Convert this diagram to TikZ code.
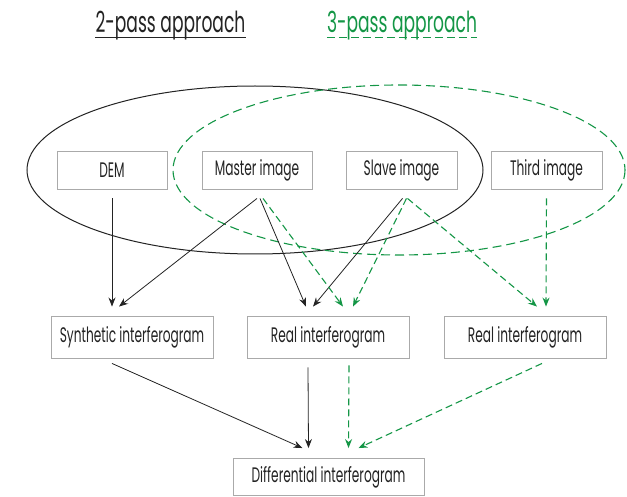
\documentclass[tikz,border=0pt]{standalone}
\usepackage{fontspec}
\setmainfont{Poppins}
\newfontfamily\boxfont{Poppins}[FakeStretch=0.58]
\newfontfamily\titlefont{Poppins}[FakeStretch=0.59]
\usetikzlibrary{arrows.meta}
\definecolor{gr}{RGB}{20,150,70}
\definecolor{ink}{RGB}{35,35,35}
\definecolor{boxline}{RGB}{170,170,170}
\tikzset{
  box/.style={draw=boxline, line width=0.9pt, inner sep=0pt, text=ink,
    font=\boxfont\fontsize{21}{24}\selectfont},
  small/.style={box, minimum width=110pt, minimum height=38pt},
  wide/.style={box, minimum width=162pt, minimum height=42pt},
  title/.style={inner sep=0pt, anchor=base, font=\titlefont\fontsize{29}{32}\selectfont},
  barr/.style={draw=ink, line width=0.8pt, -{Stealth[length=9pt,width=7pt,inset=3pt]}},
  garr/.style={draw=gr, line width=1.1pt, dash pattern=on 7pt off 4pt,
    -{Stealth[length=9pt,width=7pt,inset=3pt]}},
  gdash/.style={draw=gr, line width=1.1pt, dash pattern=on 9pt off 5pt},
}
\begin{document}
\begin{tikzpicture}[x=1pt,y=-1pt]
\useasboundingbox (0,0) rectangle (627,497);
% titles
\node[title, text=ink] (t2) at (170.5,33) {2-pass approach};
\node[title, text=gr] (t3) at (402,33) {3-pass approach};
\draw[ink, line width=1pt] ([yshift=-5pt]t2.base west) -- ([yshift=-5pt]t2.base east);
\draw[gr, line width=1pt, dash pattern=on 8pt off 4pt] ([yshift=-5pt]t3.base west) -- ([yshift=-5pt]t3.base east);
% ellipses
\draw[ink, line width=1pt] (255,170) ellipse [x radius=228, y radius=84];
\draw[gdash] (399,170) ellipse [x radius=226, y radius=85];
% boxes
\node[small] (dem) at (112,170) {DEM};
\node[small] (master) at (257,170) {Master image};
\node[small, minimum width=111pt] (slave) at (401.5,170) {Slave image};
\node[small, minimum width=111pt] (third) at (546.5,170) {Third image};
\node[wide] (synth) at (132,337) {Synthetic interferogram};
\node[wide] (real) at (328,337) {Real interferogram};
\node[wide] (real3) at (525,337) {Real interferogram};
\node[box, minimum width=191pt, minimum height=37pt] (diff) at (328.5,477) {Differential interferogram};
% upper arrows
\draw[barr] ([yshift=-9pt]dem.south) -- ([xshift=-20pt,yshift=9pt]synth.north);
\draw[barr] ([yshift=-9pt]master.south) -- ([xshift=-13pt,yshift=9pt]synth.north);
\draw[barr] ([xshift=3pt,yshift=-9pt]master.south) -- ([xshift=-22pt,yshift=9pt]real.north);
\draw[barr] ([xshift=1pt,yshift=-9pt]slave.south) -- ([xshift=-15pt,yshift=9pt]real.north);
\draw[garr] ([xshift=6pt,yshift=-9pt]master.south) -- ([xshift=15pt,yshift=9pt]real.north);
\draw[garr] ([xshift=5pt,yshift=-9pt]slave.south) -- ([xshift=25pt,yshift=9pt]real.north);
\draw[garr] ([xshift=6pt,yshift=-9pt]slave.south) -- ([xshift=12pt,yshift=9pt]real3.north);
\draw[garr] ([yshift=-9pt]third.south) -- ([xshift=21pt,yshift=9pt]real3.north);
% lower arrows
\draw[barr] ([xshift=-20pt,yshift=-5pt]synth.south) -- ([xshift=-26pt,yshift=10pt]diff.north);
\draw[barr] ([xshift=-20pt,yshift=-9pt]real.south) -- ([xshift=-20pt,yshift=10pt]diff.north);
\draw[garr] ([xshift=21pt,yshift=-7pt]real.south) -- ([xshift=20pt,yshift=10pt]diff.north);
\draw[garr] ([xshift=17pt,yshift=-5pt]real3.south) -- ([xshift=30pt,yshift=10pt]diff.north);
\end{tikzpicture}
\end{document}
